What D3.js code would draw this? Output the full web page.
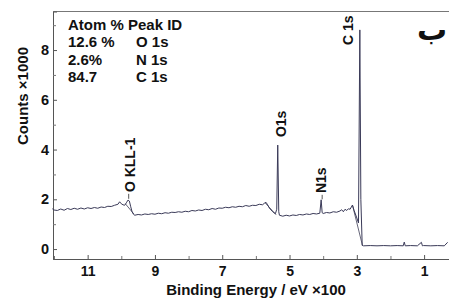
<!DOCTYPE html>
<html><head><meta charset="utf-8">
<script src="https://cdn.jsdelivr.net/npm/d3@7"></script>
<style>body{margin:0;background:#fff}svg text{font-family:"Liberation Sans",Arial,sans-serif;font-weight:bold;fill:#111}</style>
</head><body>
<svg id="c" width="449" height="300"></svg>
<script>
// Binding energy (eV x100) and counts (x1000)
const energy = [12.05,12.0,11.9,11.8,11.7,11.6,11.5,11.4,11.3,11.2,11.1,11.0,10.9,10.8,10.7,10.6,10.5,10.4,10.3,10.2,10.1,10.05,10.0,9.95,9.9,9.85,9.8,9.76,9.72,9.68,9.64,9.6,9.5,9.4,9.3,9.2,9.1,9.0,8.9,8.8,8.7,8.6,8.5,8.4,8.3,8.2,8.1,8.0,7.9,7.8,7.7,7.6,7.5,7.4,7.3,7.2,7.1,7.0,6.9,6.8,6.7,6.6,6.5,6.4,6.3,6.2,6.1,6.0,5.9,5.8,5.75,5.7,5.65,5.6,5.5,5.42,5.38,5.35,5.32,5.3,5.2,5.1,5.0,4.9,4.8,4.7,4.6,4.5,4.4,4.3,4.2,4.1,4.06,4.03,4.0,3.9,3.8,3.7,3.6,3.5,3.45,3.4,3.35,3.3,3.25,3.2,3.13,3.08,3.0,2.95,2.91,2.88,2.84,2.8,2.6,2.4,2.2,2.0,1.8,1.62,1.59,1.56,1.4,1.2,1.08,1.05,1.02,0.8,0.6,0.4,0.3,0.26];
const counts = [1.62,1.57,1.55,1.61,1.56,1.63,1.59,1.64,1.6,1.65,1.61,1.66,1.63,1.67,1.64,1.69,1.67,1.72,1.71,1.76,1.8,1.9,1.82,1.78,1.76,1.86,1.97,1.93,1.7,1.5,1.4,1.36,1.39,1.37,1.41,1.39,1.42,1.4,1.44,1.42,1.46,1.44,1.48,1.47,1.5,1.48,1.52,1.5,1.55,1.53,1.57,1.55,1.6,1.58,1.63,1.6,1.65,1.64,1.68,1.66,1.7,1.68,1.72,1.7,1.75,1.72,1.76,1.75,1.8,1.78,1.84,1.88,1.78,1.65,1.5,1.42,1.6,4.18,1.5,1.36,1.32,1.36,1.33,1.37,1.35,1.39,1.37,1.41,1.39,1.43,1.41,1.44,1.98,1.46,1.43,1.47,1.45,1.5,1.48,1.53,1.58,1.5,1.6,1.55,1.62,1.6,1.77,1.55,1.25,1.05,8.81,2.0,0.15,0.13,0.14,0.13,0.14,0.13,0.14,0.13,0.28,0.13,0.14,0.13,0.27,0.13,0.14,0.13,0.14,0.13,0.27];
// secondary envelope trace
const envEnergy = [9.88,9.62,NaN,5.72,5.4,NaN,3.13,2.83];
const envCounts = [1.82,1.4,NaN,1.85,1.38,NaN,1.77,0.13];
const xTicks = [11,9,7,5,3,1];
const xMinor = [12,10,8,6,4,2];
const yTicks = [0,2,4,6,8];
const yMinor = [1,3,5,7,9];
const legendCol1 = ["Atom %","12.6 %","2.6%","84.7"];
const legendCol2 = ["Peak ID","O 1s","N 1s","C 1s"];
// peak labels: text, energy of label centre, counts at text start, peak energy/height for leader
const labelText = ["O KLL-1","O1s","N1s","C 1s"];
const labelEnergy = [9.74,5.25,4.06,3.27];
const labelCounts = [2.29,4.5,2.25,8.2];
const leaderEnergy = [9.78,null,4.03,null];
const leaderTop = [2.22,null,2.18,null];
const leaderBottom = [2.02,null,2.0,null];

const svg = d3.select("#c");
const L=53, R=449, T=11.5, B=259;
const x = d3.scaleLinear().domain([12.03,0.26]).range([L,R]);
const y = d3.scaleLinear().domain([-0.4,9.55]).range([B,T]);

// frame
svg.append("line").attr("x1",L).attr("x2",R).attr("y1",T).attr("y2",T).attr("stroke","#777").attr("stroke-width",1);

const xa = svg.append("g").attr("transform",`translate(0,${B})`)
  .call(d3.axisBottom(x).tickValues(xTicks).tickSize(-4).tickFormat(d3.format("d")));
xa.select(".domain").attr("stroke","#555");
xa.selectAll(".tick line").attr("stroke","#555");
xa.selectAll("text").style("font-size","14px").attr("y",17).attr("dy",0);
svg.append("g").attr("transform",`translate(0,${B})`)
  .call(d3.axisBottom(x).tickValues(xMinor).tickSize(-3).tickFormat(""))
  .call(g=>{g.select(".domain").remove();g.selectAll("line").attr("stroke","#777");});

const ya = svg.append("g").attr("transform",`translate(${L},0)`)
  .call(d3.axisLeft(y).tickValues(yTicks).tickSize(-4).tickPadding(4).tickFormat(d3.format("d")));
ya.select(".domain").attr("stroke","#555");
ya.selectAll(".tick line").attr("stroke","#555");
ya.selectAll("text").style("font-size","14.5px");
svg.append("g").attr("transform",`translate(${L},0)`)
  .call(d3.axisLeft(y).tickValues(yMinor).tickSize(-3).tickFormat(""))
  .call(g=>{g.select(".domain").remove();g.selectAll("line").attr("stroke","#777");});

// spectrum
const data = energy.map((e,i)=>[e,counts[i]]);
const line = d3.line().x(d=>x(d[0])).y(d=>y(d[1])).defined(d=>!isNaN(d[0]));
svg.append("path").datum(envEnergy.map((e,i)=>[e,envCounts[i]])).attr("d",line)
  .attr("fill","none").attr("stroke","#55556a").attr("stroke-width",0.9);
svg.append("path").datum(data).attr("d",line)
  .attr("fill","none").attr("stroke","#3a3a58").attr("stroke-width",1);

// legend text
legendCol1.forEach((t,i)=>{
  svg.append("text").attr("x",68).attr("y",30+i*17.4).style("font-size","15px").text(t);
  svg.append("text").attr("x",i===0?128:136).attr("y",30+i*17.4).style("font-size","15px").text(legendCol2[i]);
});

// peak labels
labelText.forEach((t,i)=>{
  svg.append("text").attr("transform",`translate(${x(labelEnergy[i])+5},${y(labelCounts[i])}) rotate(-90)`)
    .style("font-size","14px").text(t);
  if(leaderEnergy[i]!==null){
    svg.append("line").attr("x1",x(leaderEnergy[i])).attr("x2",x(leaderEnergy[i]))
      .attr("y1",y(leaderTop[i])).attr("y2",y(leaderBottom[i])).attr("stroke","#555");
  }
});

// axis titles
svg.append("text").attr("x",256).attr("y",294.5).attr("text-anchor","middle").style("font-size","15px").text("Binding Energy / eV ×100");
svg.append("text").attr("transform","translate(28,96) rotate(-90)").attr("text-anchor","middle").style("font-size","15px").text("Counts ×1000");

// panel letter
svg.append("text").attr("x",432).attr("y",40).attr("text-anchor","middle").style("font-size","30px").style("font-family","'DejaVu Sans',sans-serif").text("ب");
</script>
</body></html>
